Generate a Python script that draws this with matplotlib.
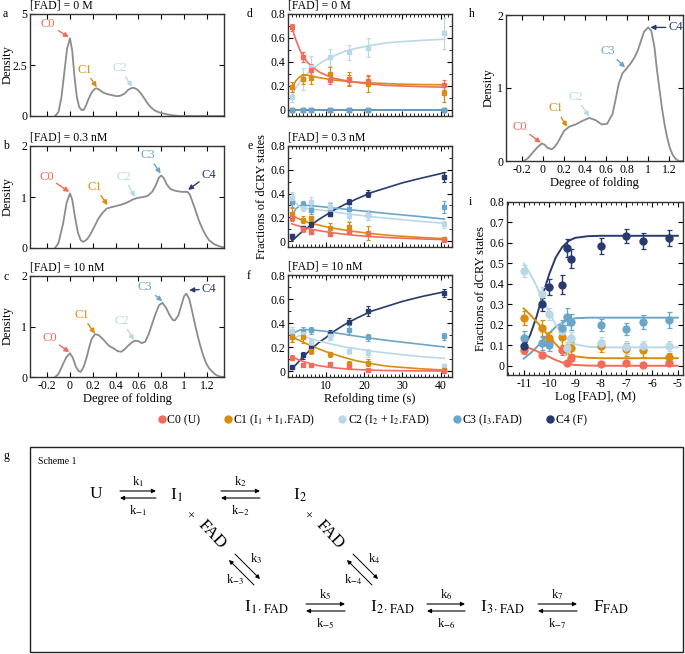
import numpy as np
import matplotlib
matplotlib.use("Agg")
import matplotlib.pyplot as plt
from matplotlib.ticker import MultipleLocator
from matplotlib.lines import Line2D
from matplotlib.patches import Rectangle

plt.rcParams['font.family'] = ['Liberation Serif', 'DejaVu Serif']
plt.rcParams['mathtext.fontset'] = 'stix'
plt.rcParams['axes.unicode_minus'] = False

W, H = 685, 654
colors = {"C0": "#f26b5b", "C1": "#d98c10", "C2": "#b9d8e8", "C3": "#6ba5c8", "C4": "#283a6e"}
states = ["C0", "C1", "C2", "C3", "C4"]
legend_labels = ["C0 (U)", "C1 (I$_1$ + I$_1$.FAD)", "C2 (I$_2$ + I$_2$.FAD)",
                 "C3 (I$_3$.FAD)", "C4 (F)"]

# ---- density profiles (a, b, c, h) ----
dens_a_x = [-0.13, -0.10, -0.075, -0.05, -0.025, 0.0, 0.02, 0.04, 0.06, 0.08, 0.10, 0.12, 0.14, 0.16,
            0.19, 0.215, 0.235, 0.26, 0.29, 0.33, 0.37, 0.41, 0.44, 0.48, 0.51, 0.54, 0.56, 0.59, 0.62,
            0.65, 0.68, 0.71, 0.74, 0.78, 0.82, 0.87, 0.92, 0.97, 1.35]
dens_a_y = [0, 0.2, 0.9, 2.1, 3.3, 3.81, 3.2, 1.9, 0.95, 0.45, 0.3, 0.3, 0.5, 0.8,
            1.15, 1.32, 1.36, 1.28, 1.15, 1.07, 1.02, 0.97, 0.99, 1.1, 1.28, 1.37, 1.38, 1.3, 1.12,
            0.88, 0.62, 0.42, 0.28, 0.18, 0.12, 0.06, 0.02, 0, 0]

dens_b_x = [-0.13, -0.10, -0.06, -0.03, 0.0, 0.02, 0.044, 0.07, 0.095, 0.118, 0.15, 0.18, 0.21, 0.25,
            0.29, 0.32, 0.36, 0.40, 0.45, 0.50, 0.55, 0.59, 0.64, 0.68, 0.72, 0.75, 0.78, 0.80, 0.82,
            0.85, 0.88, 0.91, 0.95, 0.99, 1.03, 1.05, 1.07, 1.10, 1.13, 1.16, 1.19, 1.22, 1.26, 1.30, 1.35]
dens_b_y = [0, 0.1, 0.48, 0.88, 1.07, 0.95, 0.61, 0.3, 0.15, 0.12, 0.17, 0.27, 0.4, 0.58,
            0.7, 0.77, 0.8, 0.82, 0.85, 0.89, 0.95, 0.98, 1.0, 1.02, 1.1, 1.22, 1.38, 1.42, 1.38,
            1.24, 1.16, 1.13, 1.11, 1.1, 1.1, 1.05, 0.93, 0.74, 0.54, 0.38, 0.25, 0.15, 0.08, 0.04, 0.01]

dens_c_x = [-0.13, -0.10, -0.06, -0.03, 0.0, 0.025, 0.053, 0.075, 0.094, 0.12, 0.147, 0.17, 0.19, 0.22,
            0.25, 0.29, 0.34, 0.38, 0.42, 0.45, 0.48, 0.51, 0.54, 0.57, 0.60, 0.63, 0.66, 0.69, 0.72,
            0.75, 0.78, 0.81, 0.84, 0.87, 0.90, 0.92, 0.95, 0.97, 1.00, 1.02, 1.045, 1.07, 1.10, 1.13,
            1.16, 1.19, 1.22, 1.25, 1.28, 1.31, 1.35]
dens_c_y = [0, 0.06, 0.26, 0.4, 0.47, 0.38, 0.2, 0.12, 0.1, 0.2, 0.39, 0.6, 0.75, 0.85,
            0.83, 0.75, 0.62, 0.57, 0.51, 0.5, 0.55, 0.62, 0.68, 0.72, 0.71, 0.67, 0.7, 0.85, 1.05,
            1.25, 1.42, 1.47, 1.38, 1.24, 1.13, 1.12, 1.22, 1.37, 1.6, 1.65, 1.55, 1.31, 1.0, 0.72,
            0.48, 0.29, 0.17, 0.1, 0.04, 0.01, 0]

dens_h_x = [-0.18, -0.14, -0.10, -0.05, -0.01, 0.02, 0.044, 0.085, 0.11, 0.14, 0.17, 0.20, 0.25, 0.31,
            0.375, 0.44, 0.50, 0.56, 0.61, 0.66, 0.69, 0.72, 0.755, 0.79, 0.83, 0.87, 0.90, 0.93, 0.96,
            1.0, 1.03, 1.06, 1.08, 1.105, 1.13, 1.155, 1.18, 1.205, 1.23, 1.26, 1.29, 1.33]
dens_h_y = [0, 0.04, 0.11, 0.19, 0.24, 0.22, 0.18, 0.16, 0.19, 0.25, 0.33, 0.41, 0.47, 0.5,
            0.55, 0.59, 0.56, 0.5, 0.51, 0.64, 0.84, 1.06, 1.2, 1.26, 1.33, 1.42, 1.51, 1.64, 1.77,
            1.83, 1.78, 1.55, 1.28, 1.0, 0.73, 0.5, 0.32, 0.18, 0.09, 0.03, 0, 0]

# ---- refolding kinetics (d, e, f) ----
t_pts = [1, 4, 6, 11, 16, 21, 41]
t_fit = [1, 2, 3, 4, 5, 6, 8, 10, 12, 15, 18, 22, 26, 30, 35, 41]

d_pts = {"C0": [0.69, 0.44, 0.33, 0.25, 0.25, 0.245, 0.21],
         "C1": [0.19, 0.26, 0.27, 0.30, 0.26, 0.22, 0.14],
         "C2": [0.11, 0.26, 0.36, 0.44, 0.48, 0.52, 0.64],
         "C3": [0, 0, 0, 0, 0, 0, 0],
         "C4": [0, 0, 0, 0, 0, 0, 0]}
d_err = {"C0": [0.03, 0.04, 0.05, 0.03, 0.04, 0.04, 0.04],
         "C1": [0.04, 0.04, 0.05, 0.06, 0.06, 0.07, 0.07],
         "C2": [0.04, 0.09, 0.09, 0.07, 0.06, 0.08, 0.13],
         "C3": [0.005] * 7, "C4": [0.005] * 7}
d_fit = {"C0": [0.69, 0.59, 0.51, 0.44, 0.40, 0.37, 0.32, 0.29, 0.265, 0.245, 0.23, 0.215, 0.205, 0.2, 0.195, 0.19],
         "C1": [0.18, 0.24, 0.275, 0.29, 0.29, 0.285, 0.27, 0.26, 0.25, 0.24, 0.232, 0.225, 0.22, 0.215, 0.212, 0.21],
         "C2": [0.12, 0.18, 0.23, 0.27, 0.30, 0.33, 0.38, 0.42, 0.45, 0.49, 0.515, 0.54, 0.56, 0.57, 0.58, 0.59],
         "C3": [0] * 16, "C4": [0] * 16}

e_pts = {"C0": [0.19, 0.10, 0.08, 0.06, 0.08, 0.06, 0.01],
         "C1": [0.23, 0.18, 0.19, 0.11, 0.12, 0.07, 0.02],
         "C2": [0.36, 0.28, 0.33, 0.29, 0.21, 0.22, 0.14],
         "C3": [0.33, 0.31, 0.26, 0.28, 0.27, 0.22, 0.29],
         "C4": [0.04, 0.11, 0.14, 0.23, 0.33, 0.40, 0.54]}
e_err = {"C0": [0.02, 0.02, 0.02, 0.02, 0.02, 0.02, 0.01],
         "C1": [0.05, 0.03, 0.02, 0.04, 0.04, 0.06, 0.01],
         "C2": [0.05, 0.03, 0.04, 0.04, 0.04, 0.04, 0.03],
         "C3": [0.04, 0.03, 0.03, 0.04, 0.04, 0.04, 0.05],
         "C4": [0.02, 0.02, 0.02, 0.02, 0.02, 0.03, 0.04]}
e_fit = {"C0": [0.145, 0.135, 0.125, 0.115, 0.107, 0.10, 0.088, 0.078, 0.068, 0.057, 0.047, 0.037, 0.03, 0.024, 0.018, 0.012],
         "C1": [0.22, 0.20, 0.185, 0.17, 0.16, 0.15, 0.135, 0.12, 0.108, 0.092, 0.078, 0.062, 0.05, 0.04, 0.03, 0.02],
         "C2": [0.40, 0.32, 0.29, 0.28, 0.275, 0.27, 0.262, 0.255, 0.245, 0.232, 0.22, 0.205, 0.192, 0.18, 0.165, 0.15],
         "C3": [0.20, 0.27, 0.295, 0.30, 0.30, 0.298, 0.292, 0.285, 0.278, 0.268, 0.258, 0.245, 0.232, 0.22, 0.205, 0.185],
         "C4": [0.0, 0.03, 0.06, 0.085, 0.11, 0.135, 0.18, 0.22, 0.26, 0.31, 0.355, 0.41, 0.45, 0.49, 0.53, 0.575]}

f_pts = {"C0": [0.11, 0.05, 0.05, 0.06, 0.03, 0.01, 0.0],
         "C1": [0.28, 0.28, 0.17, 0.14, 0.06, 0.07, 0.01],
         "C2": [0.33, 0.31, 0.24, 0.29, 0.17, 0.15, 0.04],
         "C3": [0.29, 0.33, 0.34, 0.29, 0.34, 0.28, 0.29],
         "C4": [0.03, 0.13, 0.19, 0.31, 0.41, 0.50, 0.65]}
f_err = {"C0": [0.02, 0.01, 0.01, 0.01, 0.01, 0.01, 0.01],
         "C1": [0.04, 0.05, 0.03, 0.02, 0.02, 0.03, 0.01],
         "C2": [0.04, 0.03, 0.03, 0.03, 0.03, 0.03, 0.02],
         "C3": [0.05, 0.04, 0.03, 0.03, 0.04, 0.03, 0.03],
         "C4": [0.01, 0.03, 0.02, 0.03, 0.03, 0.04, 0.03]}
f_fit = {"C0": [0.12, 0.105, 0.09, 0.08, 0.07, 0.06, 0.045, 0.035, 0.027, 0.018, 0.012, 0.007, 0.004, 0.002, 0.001, 0.0],
         "C1": [0.28, 0.27, 0.255, 0.24, 0.225, 0.21, 0.185, 0.16, 0.14, 0.11, 0.085, 0.06, 0.04, 0.03, 0.018, 0.008],
         "C2": [0.24, 0.28, 0.295, 0.29, 0.28, 0.27, 0.25, 0.235, 0.22, 0.20, 0.185, 0.165, 0.15, 0.135, 0.12, 0.105],
         "C3": [0.30, 0.325, 0.34, 0.345, 0.345, 0.343, 0.337, 0.33, 0.32, 0.305, 0.29, 0.272, 0.255, 0.24, 0.222, 0.20],
         "C4": [0.02, 0.05, 0.085, 0.12, 0.15, 0.18, 0.235, 0.28, 0.33, 0.39, 0.44, 0.50, 0.54, 0.58, 0.62, 0.66]}

# ---- FAD titration (i) ----
logfad = [-11, -10.3, -10, -9.52, -9.3, -9.15, -8, -7, -6.35, -5.35]
i_pts = {"C0": [0.075, 0.053, 0.12, 0.075, 0.013, 0.04, 0.01, 0.013, 0.006, 0.013],
         "C1": [0.232, 0.183, 0.135, 0.143, 0.086, 0.086, 0.097, 0.08, 0.075, 0.042],
         "C2": [0.462, 0.353, 0.253, 0.17, 0.085, 0.135, 0.11, 0.09, 0.095, 0.095],
         "C3": [0.135, 0.11, 0.10, 0.183, 0.24, 0.215, 0.198, 0.18, 0.214, 0.224],
         "C4": [0.097, 0.30, 0.386, 0.397, 0.574, 0.524, 0.585, 0.635, 0.61, 0.624]}
i_err = {"C0": [0.015, 0.015, 0.02, 0.02, 0.01, 0.015, 0.01, 0.01, 0.01, 0.01],
         "C1": [0.035, 0.04, 0.03, 0.04, 0.03, 0.03, 0.03, 0.03, 0.03, 0.02],
         "C2": [0.03, 0.03, 0.03, 0.04, 0.03, 0.03, 0.03, 0.03, 0.025, 0.025],
         "C3": [0.035, 0.035, 0.03, 0.04, 0.04, 0.04, 0.03, 0.03, 0.035, 0.04],
         "C4": [0.02, 0.03, 0.04, 0.045, 0.045, 0.045, 0.04, 0.035, 0.04, 0.04]}
logfad_fit = [-11, -10.75, -10.5, -10.25, -10, -9.75, -9.5, -9.25, -9, -8.5, -8, -7, -6, -5]
i_fit = {"C0": [0.095, 0.085, 0.072, 0.058, 0.043, 0.028, 0.016, 0.008, 0.004, 0.001, 0, 0, 0, 0],
         "C1": [0.28, 0.25, 0.215, 0.18, 0.14, 0.105, 0.075, 0.056, 0.046, 0.039, 0.037, 0.037, 0.037, 0.037],
         "C2": [0.50, 0.45, 0.39, 0.32, 0.26, 0.20, 0.155, 0.125, 0.105, 0.093, 0.09, 0.09, 0.09, 0.09],
         "C3": [0.035, 0.06, 0.09, 0.125, 0.16, 0.19, 0.21, 0.225, 0.232, 0.235, 0.235, 0.235, 0.235, 0.235],
         "C4": [0.09, 0.15, 0.24, 0.35, 0.45, 0.53, 0.58, 0.61, 0.625, 0.633, 0.635, 0.635, 0.635, 0.635]}

fig = plt.figure(figsize=(W / 100, H / 100), dpi=100)
FS = 8.5


def box(l, t, r, b):
    return fig.add_axes([l / W, 1 - b / H, (r - l) / W, (b - t) / H])


def style(ax):
    ax.tick_params(which='both', direction='in', top=True, right=True, labelsize=FS, pad=2)
    ax.tick_params(which='major', length=3.5, width=0.8)
    ax.tick_params(which='minor', length=2, width=0.6)
    for s in ax.spines.values():
        s.set_linewidth(1.0)
        s.set_color('#333333')


def title(ax, txt):
    ax.text(0.0, 1.02, txt, transform=ax.transAxes, ha='left', va='bottom', fontsize=FS)


def letter(x, y, s):
    fig.text(x / W, 1 - y / H, s, fontsize=FS, ha='left', va='center')


def note(ax, lab, xy, xytext):
    c = colors[lab]
    ax.annotate(lab, xy=xy, xytext=xytext, color=c, fontsize=9, ha='center', va='center',
                arrowprops=dict(arrowstyle='-|>', color=c, lw=1.0, mutation_scale=7,
                                shrinkA=0, shrinkB=0))


def density(ax, x, y, ymax, yticks, labels_x):
    ax.plot(x, y, color='#8c8c8c', lw=1.3)
    ax.set_xlim(-0.35, 1.35)
    ax.set_ylim(0, ymax)
    ax.set_xticks(np.arange(-0.2, 1.21, 0.2))
    ax.set_xticklabels(['-0.2', '0', '0.2', '0.4', '0.6', '0.8', '1', '1.2'] if labels_x else [])
    ax.set_yticks(yticks)
    style(ax)


# density panels a, b, c
ax_a = box(30, 14, 224, 116)
density(ax_a, dens_a_x, dens_a_y, 5, [0, 2.5, 5], False)
ax_a.set_yticklabels(['0', '2.5', '5'])
note(ax_a, "C0", (-0.01, 3.86), (-0.19, 4.5))
note(ax_a, "C1", (0.235, 1.41), (0.13, 2.27))
note(ax_a, "C2", (0.545, 1.43), (0.435, 2.35))
title(ax_a, "[FAD] = 0 M")

ax_b = box(30, 146, 224, 248)
density(ax_b, dens_b_x, dens_b_y, 2, [0, 1, 2], False)
note(ax_b, "C0", (-0.006, 1.10), (-0.206, 1.40))
note(ax_b, "C1", (0.329, 0.84), (0.22, 1.2))
note(ax_b, "C2", (0.57, 1.0), (0.47, 1.4))
note(ax_b, "C3", (0.795, 1.46), (0.685, 1.82))
note(ax_b, "C4", (1.035, 1.14), (1.22, 1.44))
title(ax_b, "[FAD] = 0.3 nM")

ax_c = box(30, 276, 224, 377)
density(ax_c, dens_c_x, dens_c_y, 2, [0, 1, 2], True)
note(ax_c, "C0", (-0.006, 0.49), (-0.18, 0.78))
note(ax_c, "C1", (0.22, 0.86), (0.10, 1.23))
note(ax_c, "C2", (0.56, 0.73), (0.456, 1.11))
note(ax_c, "C3", (0.81, 1.5), (0.66, 1.78))
note(ax_c, "C4", (1.045, 1.72), (1.22, 1.74))
ax_c.set_xlabel("Degree of folding", fontsize=FS + 0.5, labelpad=1)
title(ax_c, "[FAD] = 10 nM")

for ax, yc in [(ax_a, 65), (ax_b, 197), (ax_c, 326)]:
    fig.text(8 / W, 1 - yc / H, "Density", rotation=90, fontsize=FS + 0.5, ha='center', va='center')


# kinetics panels d, e, f
def kinetics(ax, pts, err, fit, labels_x):
    for s in ["C4", "C3", "C2", "C1", "C0"]:
        ax.plot(t_fit, fit[s], color=colors[s], lw=1.2, zorder=2)
    for s in ["C4", "C3", "C2", "C1", "C0"]:
        ax.errorbar(t_pts, pts[s], yerr=err[s], fmt='s', ms=2.8, color=colors[s],
                    elinewidth=0.9, capsize=1.5, capthick=0.8, zorder=3)
    ax.set_xlim(0, 43)
    ax.set_ylim(-0.05, 0.8)
    ax.set_xticks([10, 20, 30, 40])
    ax.xaxis.set_minor_locator(MultipleLocator(1))
    ax.set_yticks([0, 0.2, 0.4, 0.6, 0.8])
    ax.set_yticklabels(['0', '0.2', '0.4', '0.6', '0.8'])
    ax.yaxis.set_minor_locator(MultipleLocator(0.1))
    if not labels_x:
        ax.set_xticklabels([])
    style(ax)


ax_d = box(288, 14, 452, 116)
kinetics(ax_d, d_pts, d_err, d_fit, False)
title(ax_d, "[FAD] = 0 M")
ax_e = box(288, 146, 452, 247)
kinetics(ax_e, e_pts, e_err, e_fit, False)
title(ax_e, "[FAD] = 0.3 nM")
ax_f = box(288, 275, 452, 377)
kinetics(ax_f, f_pts, f_err, f_fit, True)
title(ax_f, "[FAD] = 10 nM")
ax_f.set_xlabel("Refolding time (s)", fontsize=FS + 0.5, labelpad=1)
fig.text(262 / W, 1 - 196 / H, "Fractions of dCRY states", rotation=90, fontsize=FS + 0.5,
         ha='center', va='center')

# h
ax_h = box(506, 15, 683, 161)
density(ax_h, dens_h_x, dens_h_y, 2, [0, 1, 2], True)
ax_h.set_xlim(-0.35, 1.33)
note(ax_h, "C0", (-0.02, 0.25), (-0.22, 0.47))
note(ax_h, "C1", (0.23, 0.47), (0.12, 0.72))
note(ax_h, "C2", (0.44, 0.61), (0.31, 0.88))
note(ax_h, "C3", (0.78, 1.28), (0.62, 1.51))
note(ax_h, "C4", (1.02, 1.83), (1.26, 1.83))
ax_h.set_xlabel("Degree of folding", fontsize=FS + 0.5, labelpad=1)
ax_h.set_ylabel("Density", fontsize=FS + 0.5, labelpad=2)

# i
ax_i = box(507, 202, 683, 375)
for s in ["C4", "C3", "C2", "C1", "C0"]:
    ax_i.plot(logfad_fit, i_fit[s], color=colors[s], lw=1.4, zorder=2)
for s in ["C0", "C1", "C2", "C3", "C4"]:
    ax_i.errorbar(logfad, i_pts[s], yerr=i_err[s], fmt='o', ms=5, color=colors[s],
                  elinewidth=1.0, capsize=1.8, capthick=0.9, zorder=3)
ax_i.set_xlim(-11.65, -4.8)
ax_i.set_ylim(-0.045, 0.8)
ax_i.set_xticks(range(-11, -4))
ax_i.xaxis.set_minor_locator(MultipleLocator(0.2))
ax_i.set_yticks(np.arange(0, 0.81, 0.1))
ax_i.set_yticklabels(['0', '0.1', '0.2', '0.3', '0.4', '0.5', '0.6', '0.7', '0.8'])
style(ax_i)
ax_i.set_xlabel("Log [FAD], (M)", fontsize=FS + 0.5, labelpad=1)
ax_i.set_ylabel("Fractions of dCRY states", fontsize=FS + 0.5, labelpad=2)

# panel letters
letter(3, 14, "a")
letter(3, 146, "b")
letter(3, 277, "c")
letter(247, 14, "d")
letter(247, 146, "e")
letter(247, 276, "f")
letter(469, 14, "h")
letter(469, 202, "i")
letter(4, 456, "g")

# legend
handles = [Line2D([], [], marker='o', ls='none', ms=5, color=colors[s]) for s in states]
fig.legend(handles, legend_labels, loc='center', bbox_to_anchor=(372 / W, 1 - 420 / H), ncol=5,
           frameon=False, fontsize=FS, handletextpad=0.05, columnspacing=1.9, handlelength=0.8)

# ---- scheme (g) ----
sa = fig.add_axes([0, 0, 1, 1])
sa.set_xlim(0, W)
sa.set_ylim(H, 0)
sa.set_axis_off()
sa.patch.set_visible(False)
sa.add_patch(Rectangle((30, 447), 653, 205, fill=False, lw=1.0, edgecolor='#222222'))
sa.text(38, 462, "Scheme 1", fontsize=7, va='center', ha='left')

SF = 12.5
KF = 9


def eq_arrows(x1, x2, y, k_up, k_dn):
    sa.annotate("", xy=(x2, y - 3), xytext=(x1, y - 3),
                arrowprops=dict(arrowstyle='-|>', color='black', lw=0.8, mutation_scale=6,
                                shrinkA=0, shrinkB=0))
    sa.annotate("", xy=(x1, y + 4), xytext=(x2, y + 4),
                arrowprops=dict(arrowstyle='-|>', color='black', lw=0.8, mutation_scale=6,
                                shrinkA=0, shrinkB=0))
    xm = (x1 + x2) / 2
    sa.text(xm, y - 12, k_up, fontsize=KF, ha='center', va='center')
    sa.text(xm, y + 17, k_dn, fontsize=KF, ha='center', va='center')


sa.text(96, 494, "U", fontsize=SF, ha='center', va='center')
eq_arrows(120, 156, 494, "k$_1$", "k$_{-1}$")
sa.text(176, 495, "I$_1$", fontsize=SF, ha='center', va='center')
eq_arrows(221, 260, 494, "k$_2$", "k$_{-2}$")
sa.text(300, 495, "I$_2$", fontsize=SF, ha='center', va='center')


def diag(x0, y0, k_up, k_dn):
    sa.text(x0 - 2, y0, "×", fontsize=9, ha='center', va='center')
    sa.text(x0 + 19, y0 + 18, "FAD", fontsize=SF, rotation=-47, ha='center', va='center',
            rotation_mode='anchor')
    sa.annotate("", xy=(x0 + 67, y0 + 62), xytext=(x0 + 42, y0 + 37),
                arrowprops=dict(arrowstyle='-|>', color='black', lw=0.7, mutation_scale=6,
                                shrinkA=0, shrinkB=0))
    sa.annotate("", xy=(x0 + 36, y0 + 43), xytext=(x0 + 61, y0 + 68),
                arrowprops=dict(arrowstyle='-|>', color='black', lw=0.7, mutation_scale=6,
                                shrinkA=0, shrinkB=0))
    sa.text(x0 + 63, y0 + 42, k_up, fontsize=KF, ha='center', va='center')
    sa.text(x0 + 42, y0 + 63, k_dn, fontsize=KF, ha='center', va='center')


diag(193, 517, "k$_3$", "k$_{-3}$")
diag(311, 517, "k$_4$", "k$_{-4}$")

yb = 607
sa.text(267, yb, r"I$_{1\cdot\mathrm{FAD}}$", fontsize=SF, ha='center', va='center')
eq_arrows(306, 345, yb, "k$_5$", "k$_{-5}$")
sa.text(393, yb, r"I$_{2\cdot\mathrm{FAD}}$", fontsize=SF, ha='center', va='center')
eq_arrows(427, 465, yb, "k$_6$", "k$_{-6}$")
sa.text(503, yb, r"I$_{3\cdot\mathrm{FAD}}$", fontsize=SF, ha='center', va='center')
eq_arrows(538, 577, yb, "k$_7$", "k$_{-7}$")
sa.text(611, yb, r"F$_{\mathrm{FAD}}$", fontsize=SF, ha='center', va='center')

fig.savefig("out.png", dpi=100)
